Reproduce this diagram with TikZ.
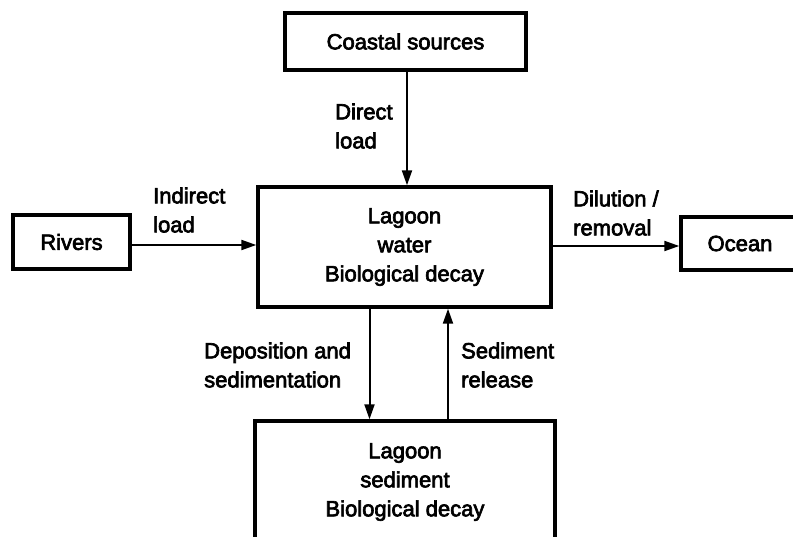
\documentclass[tikz,border=0pt]{standalone}
\usepackage{fontspec}
\setmainfont{Liberation Sans}
\newfontfamily\medsans{Liberation Sans}[FakeBold=3]
\usetikzlibrary{arrows.meta,positioning}
\tikzset{
  box/.style={rectangle,draw=black,line width=3.4pt,fill=white,align=center,inner sep=0pt,font=\medsans\fontsize{22}{29}\selectfont},
  flow/.style={-{Triangle[length=15pt,width=10pt]},line width=2pt,black},
  tag/.style={align=left,anchor=west,inner sep=0pt,font=\medsans\fontsize{22}{29}\selectfont}
}

\begin{document}
\begin{tikzpicture}[x=1pt,y=-1pt]
    \useasboundingbox (0,0) rectangle (793,536);
    \clip (0,0) rectangle (793,536);

    % boxes
    \node[box,minimum width=241pt,minimum height=57pt] (coast) at (405.5,41.5) {Coastal sources};
    \node[box,minimum width=293pt,minimum height=120pt] (water) at (404.5,247) {Lagoon\\water\\Biological decay};
    \node[box,minimum width=117pt,minimum height=54pt] (rivers) at (71.5,242) {Rivers};
    \node[box,minimum width=118pt,minimum height=53pt] (ocean) at (740,243.5) {Ocean};
    \node[box,minimum width=300pt,minimum height=122pt] (sed) at (405,482) {Lagoon\\sediment\\Biological decay};

    % connectors
    \draw[flow] ([xshift=1.5pt]coast.south) -- ([xshift=1.5pt]coast.south |- water.north);
    \draw[flow] ([yshift=-3pt]rivers.east) -- ([yshift=-3pt]rivers.east -| water.west);
    \draw[flow] ([yshift=1pt]water.east) -- ([yshift=1pt]water.east -| ocean.west);
    \draw[flow] ([xshift=-35pt]water.south) -- ([xshift=-35pt]water.south |- sed.north);
    \draw[flow] ([xshift=43pt]sed.north) -- ([xshift=43pt]sed.north |- water.south);

    % labels
    \node[tag] (direct) at (335,126) {Direct\\load};
    \node[tag] (indirect) at (153,210) {Indirect\\load};
    \node[tag] (dilution) at (573,213) {Dilution /\\removal};
    \node[tag] (deposit) at (204,365) {Deposition and\\sedimentation};
    \node[tag] (release) at (461,365) {Sediment\\release};
  \end{tikzpicture}
\end{document}
